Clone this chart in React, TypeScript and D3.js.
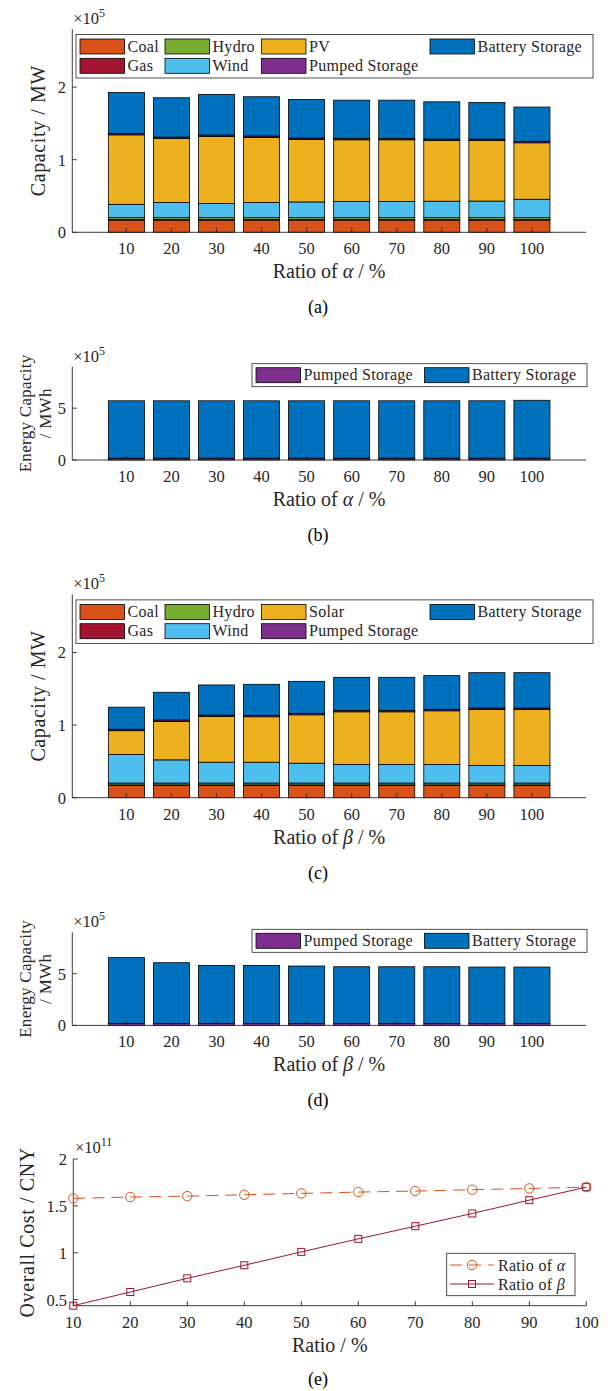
import React from "react";
import * as d3 from "d3";

// ---------- DATA ----------
const ratios = [10, 20, 30, 40, 50, 60, 70, 80, 90, 100];

// (a) capacity vs ratio of alpha (MW)
const coalA = [16800, 16800, 16800, 16800, 16800, 16800, 16800, 16800, 16800, 16800];
const gasA = [800, 800, 800, 800, 800, 800, 800, 800, 800, 800];
const hydroA = [2600, 2600, 2600, 2600, 2600, 2600, 2600, 2600, 2600, 2600];
const windA = [18300, 20800, 19400, 20800, 21600, 22100, 22100, 22600, 22800, 25300];
const pvA = [95700, 88200, 92400, 89600, 86000, 85100, 85100, 83700, 83500, 77800];
const pumpedA = [2000, 2000, 2000, 2000, 2000, 2000, 2000, 2000, 2000, 2000];
const batteryA = [56400, 54100, 56000, 54100, 53200, 52600, 52600, 51200, 50400, 47200];

// (b) energy capacity vs ratio of alpha (MWh)
const pumpedEB = [18000, 18000, 18000, 18000, 18000, 18000, 18000, 18000, 18000, 18000];
const batteryEB = [553000, 553000, 553000, 553000, 553000, 553000, 553000, 553000, 553000, 558000];

// (c) capacity vs ratio of beta (MW)
const coalC = [16800, 16800, 16800, 16800, 16800, 16800, 16800, 16800, 16800, 16800];
const gasC = [800, 800, 800, 800, 800, 800, 800, 800, 800, 800];
const hydroC = [2600, 2600, 2600, 2600, 2600, 2600, 2600, 2600, 2600, 2600];
const windC = [39200, 31900, 28700, 28700, 27300, 25500, 25500, 25500, 24100, 24100];
const solarC = [32900, 53000, 63000, 62600, 66700, 72600, 72600, 74000, 77200, 77200];
const pumpedC = [2000, 2000, 2000, 2000, 2000, 2000, 2000, 2000, 2000, 2000];
const batteryC = [30400, 38100, 41400, 42700, 44100, 45500, 45500, 46400, 48700, 48700];

// (d) energy capacity vs ratio of beta (MWh)
const pumpedED = [18000, 18000, 18000, 18000, 18000, 18000, 18000, 18000, 18000, 18000];
const batteryED = [637000, 588000, 562000, 562000, 556000, 549000, 549000, 549000, 546000, 546000];

// (e) overall cost (CNY)
const costAlpha = [1.58e11, 1.594e11, 1.604e11, 1.618e11, 1.633e11, 1.647e11, 1.658e11, 1.672e11, 1.686e11, 1.7e11];
const costBeta = [0.435e11, 0.581e11, 0.727e11, 0.866e11, 1.009e11, 1.148e11, 1.283e11, 1.419e11, 1.561e11, 1.7e11];

const capTicks = [0, 1e5, 2e5];
const energyTicks = [0, 5e5];
const costTicks = [0.5e11, 1e11, 1.5e11, 2e11];

// ---------- STYLE ----------
const FONT = "Liberation Serif, Times New Roman, serif";
const AX = "#262626";
const C = {
  coal: "#D95319",
  gas: "#A2142F",
  hydro: "#77AC30",
  wind: "#4DBEEE",
  pv: "#EDB120",
  pumped: "#7E2F8E",
  battery: "#0072BD",
};

const X0 = 72.3;
const X1 = 586;

type Series = { key: string; label: string; color: string; values: number[] };

function Exponent({ x, y, exp }: { x: number; y: number; exp: string }) {
  return (
    <text x={x} y={y} fontFamily={FONT} fontSize={16.5} fill={AX}>
      ×10
      <tspan fontSize={12} dy={-7}>
        {exp}
      </tspan>
    </text>
  );
}

function XLabel({ x, y, greek }: { x: number; y: number; greek?: string }) {
  return (
    <text x={x} y={y} textAnchor="middle" fontFamily={FONT} fontSize={20} fill={AX}>
      {greek ? (
        <>
          Ratio of <tspan fontStyle="italic">{greek}</tspan> / %
        </>
      ) : (
        "Ratio / %"
      )}
    </text>
  );
}

function BarPanel(props: {
  top: number;
  bottom: number;
  yMax: number;
  ticks: number[];
  exp: string;
  series: Series[];
  ylabel: string[];
  greek: string;
  caption: string;
  legend: "big" | "small";
}) {
  const { top, bottom, yMax, ticks, exp, series, ylabel, greek, caption, legend } = props;
  const xs = d3.scaleLinear().domain([-0.2, 11.2]).range([X0, X1]);
  const ys = d3.scaleLinear().domain([0, yMax]).range([bottom, top]);
  const rows = ratios.map((_, i) => {
    const r: Record<string, number> = {};
    series.forEach((s) => (r[s.key] = s.values[i]));
    return r;
  });
  const stacked = d3.stack<Record<string, number>>().keys(series.map((s) => s.key))(rows);
  const bw = xs(0.8) - xs(0);

  const legendEls: React.ReactNode[] = [];
  if (legend === "big") {
    const colX = [80, 165, 261.5, 430];
    const boxTop = top + 5.5;
    legendEls.push(
      <rect key="lb" x={76} y={boxTop} width={517} height={43.5} fill="#fff" stroke={AX} strokeWidth={0.8} />
    );
    series.forEach((s, k) => {
      const col = Math.floor(k / 2);
      const row = k % 2;
      const sx = colX[col];
      const sy = boxTop + 4.5 + row * 19.3;
      legendEls.push(
        <g key={"l" + k}>
          <rect x={sx} y={sy} width={44.5} height={15} fill={s.color} stroke="#000" strokeWidth={0.8} />
          <text x={sx + 47.5} y={sy + 12.5} fontFamily={FONT} fontSize={16} fill={AX} letterSpacing={0.3}>
            {s.label}
          </text>
        </g>
      );
    });
  } else {
    const boxTop = top - 3;
    legendEls.push(
      <rect key="lb" x={252} y={boxTop} width={335} height={23} fill="#fff" stroke={AX} strokeWidth={0.8} />
    );
    const colX = [256, 424.5];
    series.forEach((s, k) => {
      const sx = colX[k];
      const sy = boxTop + 4;
      legendEls.push(
        <g key={"l" + k}>
          <rect x={sx} y={sy} width={44.5} height={15} fill={s.color} stroke="#000" strokeWidth={0.8} />
          <text x={sx + 47.5} y={sy + 12.5} fontFamily={FONT} fontSize={16} fill={AX} letterSpacing={0.3}>
            {s.label}
          </text>
        </g>
      );
    });
  }

  const midY = (top + bottom) / 2;
  return (
    <g>
      {stacked.map((layer, li) => (
        <g key={layer.key} fill={series[li].color}>
          {layer.map((d, i) => (
            <rect
              key={i}
              x={xs(i + 1) - bw / 2}
              y={ys(d[1])}
              width={bw}
              height={Math.max(0, ys(d[0]) - ys(d[1]))}
              stroke="#000"
              strokeWidth={0.8}
            />
          ))}
        </g>
      ))}
      <line x1={X0} x2={X0} y1={top} y2={bottom} stroke={AX} strokeWidth={0.9} />
      <line x1={X0} x2={X1} y1={bottom} y2={bottom} stroke={AX} strokeWidth={0.9} />
      {ticks.map((t) => (
        <g key={t}>
          <line x1={X0} x2={X0 + 4.5} y1={ys(t)} y2={ys(t)} stroke={AX} strokeWidth={0.9} />
          <text x={66} y={ys(t) + 6} textAnchor="end" fontFamily={FONT} fontSize={16.5} fill={AX}>
            {t / Math.pow(10, +exp)}
          </text>
        </g>
      ))}
      {ratios.map((r, i) => (
        <g key={r}>
          <line x1={xs(i + 1)} x2={xs(i + 1)} y1={bottom} y2={bottom - 4.5} stroke={AX} strokeWidth={0.9} />
          <text x={xs(i + 1)} y={bottom + 22} textAnchor="middle" fontFamily={FONT} fontSize={16.5} fill={AX}>
            {r}
          </text>
        </g>
      ))}
      <Exponent x={73.3} y={top - 5} exp={exp} />
      {ylabel.length === 1 ? (
        <text
          transform={`translate(44.5,${midY}) rotate(-90)`}
          textAnchor="middle"
          fontFamily={FONT}
          fontSize={20}
          fill={AX}
          letterSpacing={0.6}
        >
          {ylabel[0]}
        </text>
      ) : (
        <>
          <text
            transform={`translate(30.5,${midY}) rotate(-90)`}
            textAnchor="middle"
            fontFamily={FONT}
            fontSize={17}
            fill={AX}
            letterSpacing={0.3}
          >
            {ylabel[0]}
          </text>
          <text
            transform={`translate(50.5,${midY}) rotate(-90)`}
            textAnchor="middle"
            fontFamily={FONT}
            fontSize={17}
            fill={AX}
            letterSpacing={0.3}
          >
            {ylabel[1]}
          </text>
        </>
      )}
      <XLabel x={(X0 + X1) / 2} y={bottom + 46} greek={greek} />
      <text x={318} y={bottom + 81} textAnchor="middle" fontFamily={FONT} fontSize={18} fill="#000">
        {caption}
      </text>
      {legendEls}
    </g>
  );
}

function LinePanel() {
  const top = 1159;
  const bottom = 1305.7;
  const xs = d3.scaleLinear().domain([10, 100]).range([73.3, 586.3]);
  const ys = d3.scaleLinear().domain([0.435e11, 2e11]).range([bottom, top]);
  const line = d3
    .line<number>()
    .x((_, i) => xs(ratios[i]))
    .y((d) => ys(d));
  const aCol = "#D95319";
  const bCol = "#A2142F";
  const sq = 7;
  return (
    <g>
      <line x1={73.3} x2={73.3} y1={top} y2={bottom} stroke={AX} strokeWidth={0.9} />
      <line x1={73.3} x2={586.3} y1={bottom} y2={bottom} stroke={AX} strokeWidth={0.9} />
      {costTicks.map((t) => (
        <g key={t}>
          <line x1={73.3} x2={77.8} y1={ys(t)} y2={ys(t)} stroke={AX} strokeWidth={0.9} />
          <text x={67} y={ys(t) + 6} textAnchor="end" fontFamily={FONT} fontSize={16.5} fill={AX}>
            {t / 1e11}
          </text>
        </g>
      ))}
      {ratios.map((r) => (
        <g key={r}>
          <line x1={xs(r)} x2={xs(r)} y1={bottom} y2={bottom - 4.5} stroke={AX} strokeWidth={0.9} />
          <text x={xs(r)} y={bottom + 22} textAnchor="middle" fontFamily={FONT} fontSize={16.5} fill={AX}>
            {r}
          </text>
        </g>
      ))}
      <path d={line(costAlpha) || ""} fill="none" stroke={aCol} strokeWidth={1} strokeDasharray="12,7" />
      {costAlpha.map((v, i) => (
        <circle key={i} cx={xs(ratios[i])} cy={ys(v)} r={4.7} fill="none" stroke={aCol} strokeWidth={1} />
      ))}
      <path d={line(costBeta) || ""} fill="none" stroke={bCol} strokeWidth={1} />
      {costBeta.map((v, i) => (
        <rect
          key={i}
          x={xs(ratios[i]) - sq / 2}
          y={ys(v) - sq / 2}
          width={sq}
          height={sq}
          fill="none"
          stroke={bCol}
          strokeWidth={1}
        />
      ))}
      <Exponent x={75} y={1153} exp="11" />
      <text
        transform={`translate(34,${(top + bottom) / 2}) rotate(-90)`}
        textAnchor="middle"
        fontFamily={FONT}
        fontSize={20}
        fill={AX}
        letterSpacing={0.6}
      >
        Overall Cost / CNY
      </text>
      <XLabel x={329.8} y={bottom + 46} />
      <text x={318} y={bottom + 79} textAnchor="middle" fontFamily={FONT} fontSize={18} fill="#000">
        (e)
      </text>
      <rect x={446.7} y={1253.3} width={128.3} height={42.4} fill="#fff" stroke={AX} strokeWidth={0.8} />
      <line x1={450} x2={494} y1={1265} y2={1265} stroke={aCol} strokeWidth={1} strokeDasharray="12,7" />
      <circle cx={472} cy={1265} r={4.7} fill="none" stroke={aCol} strokeWidth={1} />
      <text x={498} y={1271} fontFamily={FONT} fontSize={16} fill={AX} letterSpacing={0.3}>
        Ratio of <tspan fontStyle="italic">α</tspan>
      </text>
      <line x1={450} x2={494} y1={1284} y2={1284} stroke={bCol} strokeWidth={1} />
      <rect x={472 - sq / 2} y={1284 - sq / 2} width={sq} height={sq} fill="none" stroke={bCol} strokeWidth={1} />
      <text x={498} y={1290} fontFamily={FONT} fontSize={16} fill={AX} letterSpacing={0.3}>
        Ratio of <tspan fontStyle="italic">β</tspan>
      </text>
    </g>
  );
}

export default function App() {
  const seriesA: Series[] = [
    { key: "coal", label: "Coal", color: C.coal, values: coalA },
    { key: "gas", label: "Gas", color: C.gas, values: gasA },
    { key: "hydro", label: "Hydro", color: C.hydro, values: hydroA },
    { key: "wind", label: "Wind", color: C.wind, values: windA },
    { key: "pv", label: "PV", color: C.pv, values: pvA },
    { key: "pumped", label: "Pumped Storage", color: C.pumped, values: pumpedA },
    { key: "battery", label: "Battery Storage", color: C.battery, values: batteryA },
  ];
  const seriesB: Series[] = [
    { key: "pumped", label: "Pumped Storage", color: C.pumped, values: pumpedEB },
    { key: "battery", label: "Battery Storage", color: C.battery, values: batteryEB },
  ];
  const seriesC: Series[] = [
    { key: "coal", label: "Coal", color: C.coal, values: coalC },
    { key: "gas", label: "Gas", color: C.gas, values: gasC },
    { key: "hydro", label: "Hydro", color: C.hydro, values: hydroC },
    { key: "wind", label: "Wind", color: C.wind, values: windC },
    { key: "solar", label: "Solar", color: C.pv, values: solarC },
    { key: "pumped", label: "Pumped Storage", color: C.pumped, values: pumpedC },
    { key: "battery", label: "Battery Storage", color: C.battery, values: batteryC },
  ];
  const seriesD: Series[] = [
    { key: "pumped", label: "Pumped Storage", color: C.pumped, values: pumpedED },
    { key: "battery", label: "Battery Storage", color: C.battery, values: batteryED },
  ];
  return (
    <svg
      width={608}
      height={1391}
      viewBox="0 0 608 1391"
      style={{ position: "absolute", left: 0, top: 0, background: "#fff" }}
    >
      <rect x={0} y={0} width={608} height={1391} fill="#fff" />
      <BarPanel
        top={29}
        bottom={232.3}
        yMax={2.8e5}
        ticks={capTicks}
        exp="5"
        series={seriesA}
        ylabel={["Capacity / MW"]}
        greek="α"
        caption="(a)"
        legend="big"
      />
      <BarPanel
        top={366.7}
        bottom={460}
        yMax={9e5}
        ticks={energyTicks}
        exp="5"
        series={seriesB}
        ylabel={["Energy Capacity", "/ MWh"]}
        greek="α"
        caption="(b)"
        legend="small"
      />
      <BarPanel
        top={594.4}
        bottom={797.7}
        yMax={2.8e5}
        ticks={capTicks}
        exp="5"
        series={seriesC}
        ylabel={["Capacity / MW"]}
        greek="β"
        caption="(c)"
        legend="big"
      />
      <BarPanel
        top={932.3}
        bottom={1025.4}
        yMax={9e5}
        ticks={energyTicks}
        exp="5"
        series={seriesD}
        ylabel={["Energy Capacity", "/ MWh"]}
        greek="β"
        caption="(d)"
        legend="small"
      />
      <LinePanel />
    </svg>
  );
}
